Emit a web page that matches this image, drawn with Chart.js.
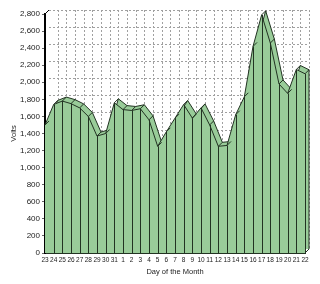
<!DOCTYPE html>
<html>
<head>
<meta charset="utf-8">
<script src="https://cdn.jsdelivr.net/npm/chart.js@4.4.0/dist/chart.umd.min.js"></script>
<style>
  html, body { margin: 0; padding: 0; background: #fff; }
  #wrap { width: 320px; height: 284px; }
</style>
</head>
<body>
<div id="wrap"><canvas id="chart" width="320" height="284"></canvas></div>
<script>
// days 23..31 of one month, then 1..22 of the next
const days = ['23', '24', '25', '26', '27', '28', '29', '30', '31',
  '1', '2', '3', '4', '5', '6', '7', '8', '9', '10', '11', '12',
  '13', '14', '15', '16', '17', '18', '19', '20', '21', '22'];
const volts = [1500, 1740, 1780, 1750, 1700, 1600, 1370, 1400, 1760,
  1680, 1670, 1690, 1560, 1250, 1420, 1580, 1740, 1580, 1700, 1500, 1250,
  1260, 1620, 1830, 2420, 2790, 2460, 1980, 1870, 2150, 2100];
const yTicks = [0, 200, 400, 600, 800, 1000, 1200, 1400, 1600, 1800, 2000, 2200, 2400, 2600, 2800];

const DEPTH = 4;
const FILL = '#99cc99';
const EDGE = '#223322';

// fake 3d: back copy shifted up-right, back wall grid, ribs down to the floor
const depthPlugin = {
  id: 'depth',
  beforeDatasetsDraw(chart) {
    const { ctx, chartArea: a, scales: { x, y } } = chart;
    ctx.save();
    ctx.strokeStyle = '#a0a0a0';
    ctx.lineWidth = 1;
    ctx.setLineDash([2, 2]);
    yTicks.forEach(v => {
      if (v === 0) return;
      const py = Math.round(y.getPixelForValue(v) - DEPTH) + 0.5;
      ctx.beginPath();
      ctx.moveTo(a.left + DEPTH, py);
      ctx.lineTo(a.right + DEPTH, py);
      ctx.stroke();
    });
    days.forEach((d, i) => {
      if (i === 0) return;
      const px = Math.round(x.getPixelForValue(i) + DEPTH) + 0.5;
      ctx.beginPath();
      ctx.moveTo(px, a.top - DEPTH);
      ctx.lineTo(px, a.bottom - DEPTH);
      ctx.stroke();
    });
    ctx.restore();
  },
  beforeDatasetDraw(chart, args) {
    if (args.index !== 1) return;
    const { ctx, scales: { y } } = chart;
    const pts = args.meta.data;
    const base = y.getPixelForValue(0);
    ctx.save();
    ctx.translate(DEPTH, -DEPTH);
    ctx.beginPath();
    ctx.moveTo(pts[0].x, base);
    pts.forEach(p => ctx.lineTo(p.x, p.y));
    ctx.lineTo(pts[pts.length - 1].x, base);
    ctx.closePath();
    ctx.fillStyle = FILL;
    ctx.fill();
  },
  afterDatasetDraw(chart, args) {
    if (args.index === 1) chart.ctx.restore();
  },
  afterDatasetsDraw(chart) {
    const { ctx, chartArea: a, scales: { y } } = chart;
    const pts = chart.getDatasetMeta(0).data;
    const base = y.getPixelForValue(0);
    ctx.save();
    ctx.strokeStyle = EDGE;
    ctx.lineWidth = 1;
    pts.forEach((p, i) => {
      const px = Math.round(p.x) + 0.5;
      ctx.beginPath();
      if (i > 0) {
        ctx.moveTo(px, p.y);
        ctx.lineTo(px, base);
      }
      ctx.moveTo(p.x, p.y);
      ctx.lineTo(p.x + DEPTH, p.y - DEPTH);
      ctx.stroke();
    });
    // right side of the floor and back edge
    const last = pts[pts.length - 1];
    ctx.beginPath();
    ctx.moveTo(a.right, base);
    ctx.lineTo(a.right + DEPTH, base - DEPTH);
    ctx.lineTo(last.x + DEPTH, last.y - DEPTH);
    ctx.stroke();
    // top of the y axis leaning back
    ctx.strokeStyle = '#000';
    ctx.beginPath();
    ctx.moveTo(a.left, a.top);
    ctx.lineTo(a.left + DEPTH, a.top - DEPTH);
    ctx.stroke();
    ctx.restore();
  }
};

const areaSet = {
  data: volts,
  backgroundColor: FILL,
  borderColor: EDGE,
  borderWidth: 1,
  pointRadius: 0,
  tension: 0,
  clip: false
};

new Chart(document.getElementById('chart'), {
  type: 'line',
  data: {
    labels: days,
    datasets: [
      { ...areaSet, label: 'front', fill: 'origin' },
      { ...areaSet, label: 'back', fill: false }
    ]
  },
  options: {
    responsive: false,
    animation: false,
    layout: { padding: { top: 14, right: 15, left: 0, bottom: 0 } },
    plugins: {
      legend: { display: false },
      tooltip: { enabled: false }
    },
    scales: {
      x: {
        offset: false,
        grid: { display: false, drawTicks: false },
        border: { display: true, color: EDGE, width: 1 },
        ticks: {
          autoSkip: false,
          maxRotation: 0,
          padding: 3,
          color: '#222',
          font: { family: 'Liberation Sans', size: 6.5 }
        },
        title: {
          display: true,
          text: 'Day of the Month',
          color: '#222',
          padding: { top: 0, bottom: 8 },
          font: { family: 'Liberation Sans', size: 7.5 }
        },
        afterFit(scale) { scale.height = 31; }
      },
      y: {
        min: 0,
        max: 2800,
        grid: { color: 'transparent', tickColor: '#666', tickLength: 3 },
        border: { display: true, color: '#000', width: 2 },
        ticks: {
          stepSize: 200,
          padding: 2,
          color: '#222',
          font: { family: 'Liberation Sans', size: 8 },
          callback: v => v.toLocaleString('en-US')
        },
        title: {
          display: true,
          text: 'Volts',
          color: '#222',
          padding: { top: 9, bottom: 0 },
          font: { family: 'Liberation Sans', size: 7.5 }
        },
        afterFit(scale) { scale.width = 45; }
      }
    }
  },
  plugins: [depthPlugin]
});
</script>
</body>
</html>
